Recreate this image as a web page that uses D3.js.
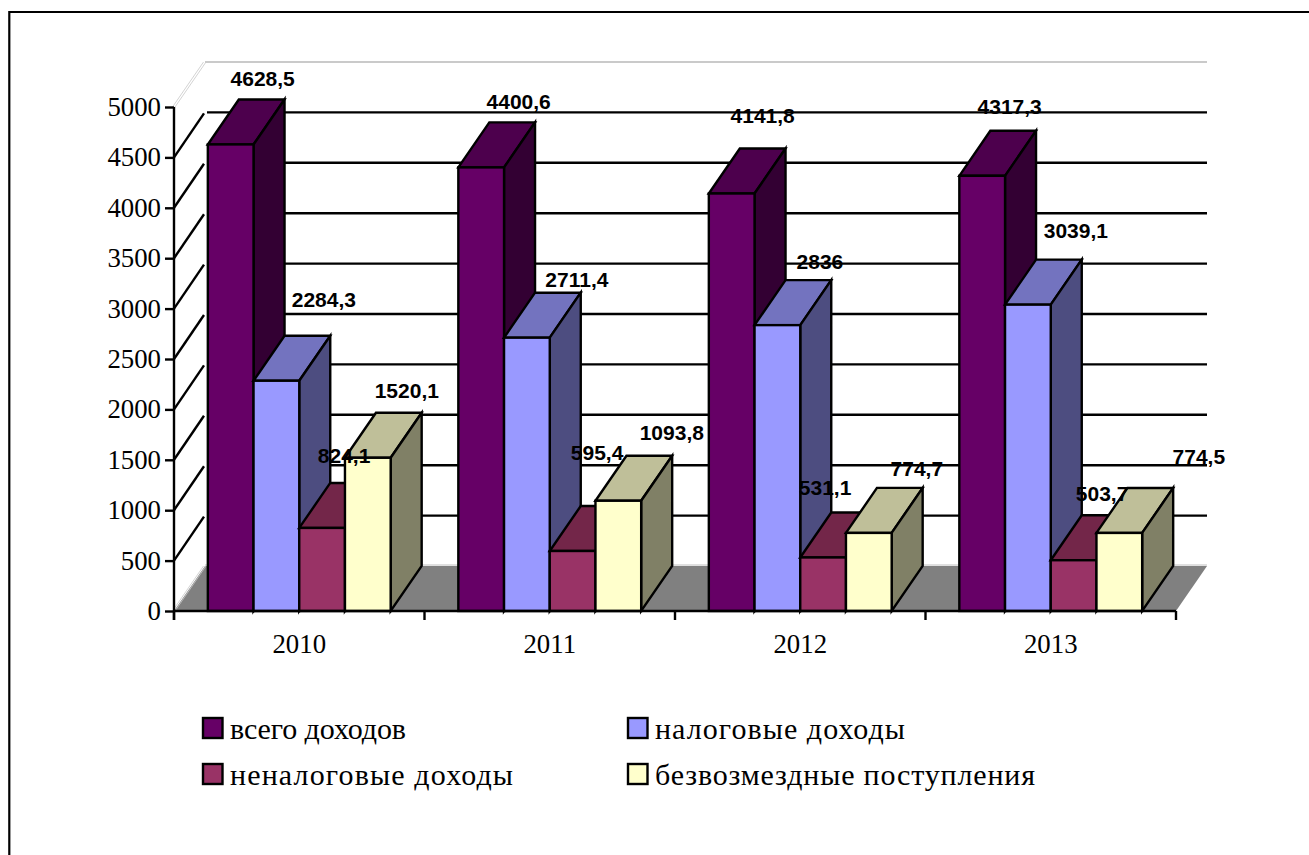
<!DOCTYPE html>
<html>
<head>
<meta charset="utf-8">
<script src="https://d3js.org/d3.v7.min.js"></script>
<style>
  html, body { margin: 0; padding: 0; background: #fff; overflow: hidden; }
  svg { display: block; }
</style>
</head>
<body>
<div id="chart"></div>
<script>
const categories = ["2010", "2011", "2012", "2013"];
const seriesNames = ["всего доходов", "налоговые доходы", "неналоговые доходы", "безвозмездные поступления"];
const totalIncome = [4628.5, 4400.6, 4141.8, 4317.3];
const taxIncome = [2284.3, 2711.4, 2836, 3039.1];
const nonTaxIncome = [824.1, 595.4, 531.1, 503.7];
const grants = [1520.1, 1093.8, 774.7, 774.5];
const seriesValues = [totalIncome, taxIncome, nonTaxIncome, grants];
const yTicks = [0, 500, 1000, 1500, 2000, 2500, 3000, 3500, 4000, 4500, 5000];

const frontColors = ["#660066", "#9999ff", "#993366", "#ffffcc"];
const topColors = ["#4d004d", "#7373bf", "#732649", "#bfbf99"];
const sideColors = ["#330033", "#4d4d80", "#4d1a33", "#808066"];

// data labels were hand placed in the original, offset from the back of the bar's top
const labelOffsets = [
  [[16.5, -20], [22, -20], [15.5, -32.5], [12, -24]],
  [[32, -36], [34.5, -13], [27, -18], [32.5, -29]],
  [[6.5, -27], [9, -53], [-13.5, -24.5], [13, -21]],
  [[23.5, -22], [38, -23], [32.5, -19], [64, -31]],
];
const legendTextWidths = [176, 250, 283, 380];

const width = 1309, height = 855;
const depthX = 31, depthY = -45; // 3d offset of the back wall
const lineW = 2.4;

const svg = d3.select("#chart").append("svg")
  .attr("width", width)
  .attr("height", height);

// outer frame, only top and left are in the picture
svg.append("path")
  .attr("d", "M9.3,855V12H1309")
  .attr("fill", "none")
  .attr("stroke", "#000")
  .attr("stroke-width", 2.2);

const x = d3.scaleBand().domain(categories).range([174, 1176]);
const xInner = d3.scaleBand()
  .domain(d3.range(seriesNames.length))
  .range([0, x.bandwidth()])
  .paddingOuter(0.74);
const y = d3.scaleLinear().domain([0, 5000]).range([611, 107]);

const x0 = x.range()[0], x1 = x.range()[1];
const line = d3.line();

// floor
svg.append("path")
  .attr("d", line([[x0, y(0)], [x0 + depthX, y(0) + depthY], [x1 + depthX, y(0) + depthY], [x1, y(0)]]) + "Z")
  .attr("fill", "#808080");

// thin grey edges of the walls
svg.append("path")
  .attr("d", line([[x0 + depthX, y(5000) + depthY], [x1 + depthX, y(5000) + depthY]]))
  .attr("stroke", "#b8b8b8").attr("stroke-width", 1.5).attr("fill", "none");
svg.append("path")
  .attr("d", line([[x0 + depthX, y(0) + depthY - 1], [x1 + depthX, y(0) + depthY - 1]]))
  .attr("stroke", "#c0c0c0").attr("stroke-width", 1).attr("fill", "none");
[0, 5000].forEach((v) => {
  [-1.5, 1].forEach((s) => {
    svg.append("path")
      .attr("d", line([[x0 + s, y(v)], [x0 + depthX + s, y(v) + depthY]]))
      .attr("stroke", "#c8c8c8").attr("stroke-width", 0.8).attr("fill", "none");
  });
});

// gridlines: back wall + side wall
const grid = yTicks.filter((d) => d > 0 && d < 5000);
svg.append("g").selectAll("path.back")
  .data(grid).enter().append("path")
  .attr("class", "back")
  .attr("d", (d) => line([[x0 + depthX + 2, y(d) + depthY], [x1 + depthX, y(d) + depthY]]))
  .attr("stroke", "#000").attr("stroke-width", lineW).attr("fill", "none");
svg.append("g").selectAll("path.wall")
  .data(grid).enter().append("path")
  .attr("class", "wall")
  .attr("d", (d) => line([[x0, y(d)], [x0 + depthX - 1, y(d) + depthY + 1]]))
  .attr("stroke", "#000").attr("stroke-width", lineW).attr("fill", "none");

// bars, left to right so the later ones cover the earlier side faces
const bars = [];
categories.forEach((c, ci) => {
  seriesNames.forEach((s, si) => {
    bars.push({ c, si, value: seriesValues[si][ci], ci });
  });
});

const barG = svg.append("g").selectAll("g")
  .data(bars).enter().append("g")
  .attr("stroke", "#000")
  .attr("stroke-width", lineW)
  .attr("stroke-linejoin", "miter");

const bx = (d) => x(d.c) + xInner(d.si);
const bw = xInner.bandwidth();

barG.append("path")
  .attr("d", (d) => line([[bx(d), y(d.value)], [bx(d) + depthX, y(d.value) + depthY], [bx(d) + bw + depthX, y(d.value) + depthY], [bx(d) + bw, y(d.value)]]) + "Z")
  .attr("fill", (d) => topColors[d.si]);
barG.append("path")
  .attr("d", (d) => line([[bx(d) + bw, y(d.value)], [bx(d) + bw + depthX, y(d.value) + depthY], [bx(d) + bw + depthX, y(0) + depthY], [bx(d) + bw, y(0)]]) + "Z")
  .attr("fill", (d) => sideColors[d.si]);
barG.append("rect")
  .attr("x", bx)
  .attr("y", (d) => y(d.value))
  .attr("width", bw)
  .attr("height", (d) => y(0) - y(d.value))
  .attr("fill", (d) => frontColors[d.si]);

// axes
const yAxis = d3.axisLeft(y).tickValues(yTicks).tickSize(9).tickPadding(4).tickFormat(d3.format("d"));
const xAxis = d3.axisBottom(x).tickSize(0).tickPadding(23);

const yG = svg.append("g").attr("transform", `translate(${x0},0)`).call(yAxis);
const xG = svg.append("g").attr("transform", `translate(0,${y(0)})`).call(xAxis);
xG.selectAll(".tick").selectAll("line").remove();
xG.append("g").selectAll("line")
  .data(categories.concat(["end"])).enter().append("line")
  .attr("x1", (d) => (d === "end" ? x1 : x(d)))
  .attr("x2", (d) => (d === "end" ? x1 : x(d)))
  .attr("y1", 0).attr("y2", 9)
  .attr("stroke", "#000").attr("stroke-width", lineW);
[yG, xG].forEach((g) => {
  g.select(".domain").attr("stroke", "#000").attr("stroke-width", lineW);
  g.selectAll(".tick line").attr("stroke", "#000").attr("stroke-width", lineW);
  g.selectAll("text")
    .attr("fill", "#000")
    .style("font-family", "'Liberation Serif', serif")
    .style("font-size", "26.8px");
});
xG.select(".domain").attr("d", `M${x0},0H${x1}`);
yG.select(".domain").attr("d", `M0,${y(5000)}V${y(0) + 9}`);

// value labels go on top of everything
svg.append("g").selectAll("text")
  .data(bars).enter().append("text")
  .attr("x", (d) => bx(d) + bw / 2 + depthX / 2 + labelOffsets[d.si][d.ci][0])
  .attr("y", (d) => y(d.value) + depthY + labelOffsets[d.si][d.ci][1] + 7)
  .attr("text-anchor", "middle")
  .style("font-family", "'Liberation Sans', Arial, sans-serif")
  .style("font-weight", "bold")
  .style("font-size", "21px")
  .attr("fill", "#000")
  .text((d) => String(d.value).replace(".", ","));

// legend
const legendX = d3.scaleOrdinal().domain([0, 1]).range([203, 628]);
const legendY = d3.scaleOrdinal().domain([0, 1]).range([718, 764]);
const legend = svg.append("g").selectAll("g")
  .data(seriesNames).enter().append("g")
  .attr("transform", (d, i) => `translate(${legendX(i % 2)},${legendY(Math.floor(i / 2))})`);
legend.append("rect")
  .attr("width", 19.5).attr("height", 20)
  .attr("fill", (d, i) => frontColors[i])
  .attr("stroke", "#000").attr("stroke-width", lineW);
legend.append("text")
  .attr("x", 27).attr("y", 21)
  .attr("textLength", (d, i) => legendTextWidths[i])
  .attr("lengthAdjust", "spacing")
  .style("font-family", "'Liberation Serif', serif")
  .style("font-size", "30px")
  .attr("fill", "#000")
  .text((d) => d);
</script>
</body>
</html>
